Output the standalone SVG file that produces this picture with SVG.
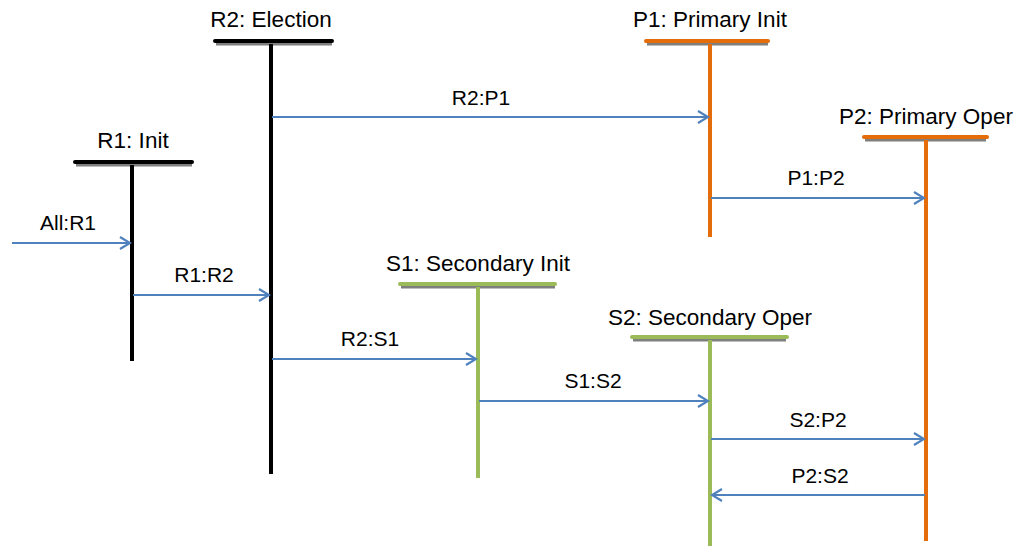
<svg xmlns="http://www.w3.org/2000/svg" width="1023" height="547" viewBox="0 0 1023 547">
<style>
text{font-family:"Liberation Sans",Arial,sans-serif;font-size:21px;fill:#000;text-anchor:middle}
text.t{font-size:22.5px}
.sh{stroke:#7f7f7f;stroke-width:3}
.blk{stroke:#000;stroke-width:4;stroke-linecap:round}
.org{stroke:#e46c0a;stroke-width:4;stroke-linecap:round}
.grn{stroke:#9bbb59;stroke-width:4;stroke-linecap:round}
.vblk{stroke:#000;stroke-width:4}
.vorg{stroke:#e46c0a;stroke-width:4}
.vgrn{stroke:#9bbb59;stroke-width:4}
.msg{stroke:#4f81bd;stroke-width:2.2;fill:none;marker-end:url(#ah)}
</style>
<defs>
<marker id="ah" markerWidth="14" markerHeight="14" refX="12" refY="7" orient="auto" markerUnits="userSpaceOnUse">
<path d="M2,1 L12,7 L2,13" fill="none" stroke="#4f81bd" stroke-width="2.2"/>
</marker>
</defs>
<rect width="1023" height="547" fill="#fff"/>
<g id="R2">
<text class="t" x="271" y="27">R2: Election</text>
<line class="sh" x1="216" y1="44" x2="332" y2="44"/>
<line class="blk" x1="215" y1="41" x2="332" y2="41"/>
<line class="vblk" x1="271" y1="44" x2="271" y2="474"/>
</g>
<g id="R1">
<text class="t" x="133" y="148">R1: Init</text>
<line class="sh" x1="76" y1="165" x2="192" y2="165"/>
<line class="blk" x1="75" y1="162" x2="192" y2="162"/>
<line class="vblk" x1="132" y1="165" x2="132" y2="361"/>
</g>
<g id="P1">
<text class="t" x="710" y="27">P1: Primary Init</text>
<line class="sh" x1="647" y1="44" x2="768" y2="44"/>
<line class="org" x1="646" y1="41" x2="768" y2="41"/>
<line class="vorg" x1="710" y1="44" x2="710" y2="237"/>
</g>
<g id="P2">
<text class="t" x="926" y="124">P2: Primary Oper</text>
<line class="sh" x1="865" y1="140" x2="986" y2="140"/>
<line class="org" x1="864" y1="137" x2="987" y2="137"/>
<line class="vorg" x1="926" y1="140" x2="926" y2="541"/>
</g>
<g id="S1">
<text class="t" x="478" y="271">S1: Secondary Init</text>
<line class="sh" x1="401" y1="287" x2="555" y2="287"/>
<line class="grn" x1="400" y1="284" x2="555" y2="284"/>
<line class="vgrn" x1="478" y1="287" x2="478" y2="478"/>
</g>
<g id="S2">
<text class="t" x="710" y="325">S2: Secondary Oper</text>
<line class="sh" x1="633" y1="340" x2="786" y2="340"/>
<line class="grn" x1="632" y1="337" x2="787" y2="337"/>
<line class="vgrn" x1="710" y1="340" x2="710" y2="546"/>
</g>
<g id="connectors">
<line class="msg" x1="12" y1="243" x2="130" y2="243"/>
<line class="msg" x1="133" y1="295" x2="269" y2="295"/>
<line class="msg" x1="272" y1="117" x2="708" y2="117"/>
<line class="msg" x1="711" y1="198" x2="924" y2="198"/>
<line class="msg" x1="272" y1="359" x2="476" y2="359"/>
<line class="msg" x1="479" y1="401" x2="708" y2="401"/>
<line class="msg" x1="711" y1="439" x2="924" y2="439"/>
<line class="msg" x1="925" y1="495" x2="712" y2="495"/>
<text x="68" y="230">All:R1</text>
<text x="204" y="282">R1:R2</text>
<text x="481" y="105">R2:P1</text>
<text x="816" y="185">P1:P2</text>
<text x="370" y="346">R2:S1</text>
<text x="593" y="388">S1:S2</text>
<text x="818" y="427">S2:P2</text>
<text x="820" y="483">P2:S2</text>
</g>
</svg>
